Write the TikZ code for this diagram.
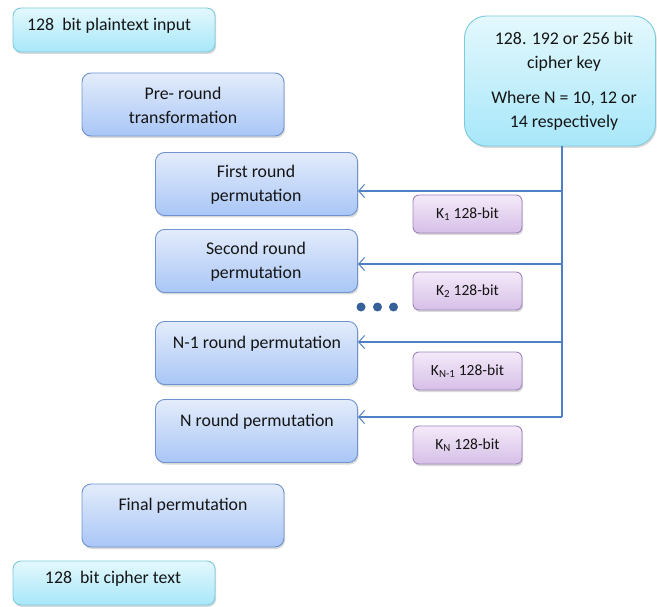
\documentclass[tikz,border=0pt]{standalone}
\usepackage{fontspec}
\setmainfont{Carlito}
\usetikzlibrary{arrows.meta,shadows}
\definecolor{linkblue}{HTML}{4F7FC4}
\definecolor{txt}{HTML}{151515}
\definecolor{blueedge}{HTML}{6F93CF}
\definecolor{bluetop}{HTML}{E3ECFB}
\definecolor{bluebot}{HTML}{A9C6F6}
\definecolor{cyanedge}{HTML}{7CCBDD}
\definecolor{cyantop}{HTML}{E4F8FD}
\definecolor{cyanbot}{HTML}{A7E7F9}
\definecolor{purpedge}{HTML}{A184BC}
\definecolor{purptop}{HTML}{F4EAF9}
\definecolor{purpbot}{HTML}{D6BFE7}
\definecolor{dotblue}{HTML}{35609A}
\tikzset{
  x=1pt, y=-1pt,
  basebox/.style={rectangle, line width=0.9pt, inner sep=0pt,
    drop shadow={shadow xshift=1.2pt, shadow yshift=-2pt, opacity=0.25, fill=black!60}},
  bluebox/.style={basebox, rounded corners=9pt, draw=blueedge,
    top color=bluetop, bottom color=bluebot,
    minimum width=202pt, minimum height=63pt},
  cyanbox/.style={basebox, rounded corners=8pt, draw=cyanedge,
    top color=cyantop, bottom color=cyanbot,
    minimum width=202pt, minimum height=44pt},
  purplebox/.style={basebox, rounded corners=6pt, draw=purpedge,
    top color=purptop, bottom color=purpbot,
    minimum width=109pt, minimum height=38pt},
  keybox/.style={basebox, rounded corners=22pt, draw=cyanedge,
    top color=cyantop, bottom color=cyanbot,
    minimum width=191pt, minimum height=130pt},
  lbl/.style={text=txt, align=center, inner sep=0pt,
    font=\fontsize{17.8}{24}\selectfont},
  klbl/.style={text=txt, align=center, inner sep=0pt,
    font=\fontsize{15.5}{18}\selectfont},
  link/.style={draw=linkblue, line width=1.1pt},
  feed/.style={link, -{Straight Barb[length=6pt,width=13pt,line width=1pt]}},
  dot/.style={circle, fill=dotblue, inner sep=0pt, minimum size=9pt}
}
\begin{document}
\begin{tikzpicture}
\useasboundingbox (0,0) rectangle (657,607);

% input / output
\node[cyanbox] (plain) at (114,30) {};
\node[lbl, anchor=west] (plainT) at (27,26) {128\ \ bit plaintext input};
\node[cyanbox] (cipher) at (114,583) {};
\node[lbl] (cipherT) at (113,579) {128\ \ bit cipher text};

% key box
\node[keybox] (key) at (560,81) {};
\node[lbl] (keyT1) at (564,52) {128. 192 or 256 bit\\cipher key};
\node[lbl] (keyT2) at (564,110.5) {Where N = 10, 12 or\\14 respectively};

% transformation stages
\node[bluebox] (pre) at (183,104.5) {};
\node[lbl] (preT) at (183,105) {Pre- round\\transformation};
\node[bluebox] (r1) at (256.5,184) {};
\node[lbl] (r1T) at (256,184.5) {First round\\permutation};
\node[bluebox] (r2) at (256.5,261) {};
\node[lbl] (r2T) at (256,261.5) {Second round\\permutation};
\node[bluebox] (rn1) at (256.5,353) {};
\node[lbl] (rn1T) at (257,344) {N-1 round permutation};
\node[bluebox] (rn) at (256.5,431) {};
\node[lbl] (rnT) at (257,422) {N round permutation};
\node[bluebox] (fin) at (183,515.5) {};
\node[lbl] (finT) at (183,506) {Final permutation};

% round keys
\node[purplebox] (k1) at (467.5,214) {};
\node[klbl] (k1T) at (467.5,214) {K\textsubscript{1} 128-bit};
\node[purplebox] (k2) at (467.5,291) {};
\node[klbl] (k2T) at (467.5,291) {K\textsubscript{2} 128-bit};
\node[purplebox] (kn1) at (467.5,371) {};
\node[klbl] (kn1T) at (467.5,371) {K\textsubscript{N-1} 128-bit};
\node[purplebox] (kn) at (467.5,445) {};
\node[klbl] (knT) at (467.5,445) {K\textsubscript{N} 128-bit};

% ellipsis between rounds
\node[dot] (d1) at (361,307) {};
\node[dot] (d2) at (377.5,307) {};
\node[dot] (d3) at (393.5,307) {};

% key schedule feed
\coordinate (bus1) at (562,191);
\coordinate (bus2) at (562,264);
\coordinate (bus3) at (562,342);
\coordinate (bus4) at (562,417);
\draw[link] (key.south -| bus1) -- (bus4);
\draw[feed] (bus1) -- (bus1 -| r1.east);
\draw[feed] (bus2) -- (bus2 -| r2.east);
\draw[feed] (bus3) -- (bus3 -| rn1.east);
\draw[feed] (bus4) -- (bus4 -| rn.east);
\end{tikzpicture}
\end{document}
